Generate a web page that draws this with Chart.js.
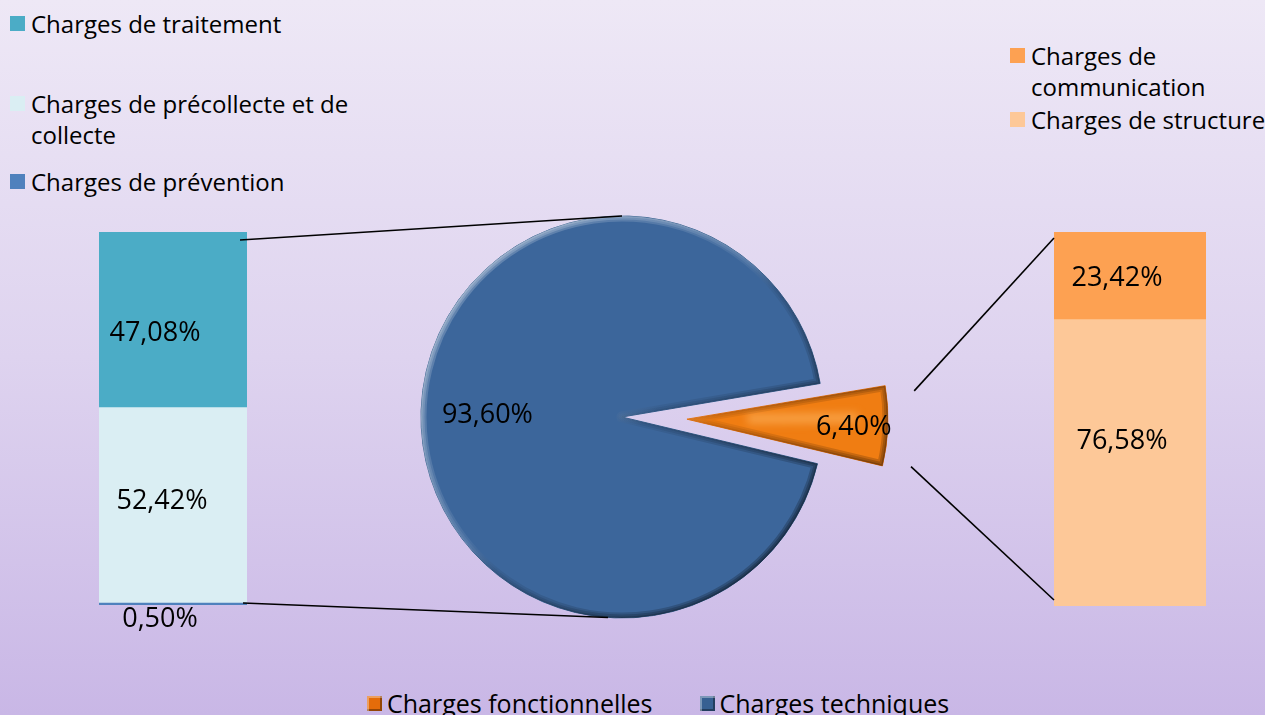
<!DOCTYPE html>
<html lang="fr">
<head>
<meta charset="utf-8">
<title>Répartition des charges</title>
<script src="https://cdn.jsdelivr.net/npm/chart.js@4/dist/chart.umd.min.js"></script>
<style>
  html, body { margin: 0; padding: 0; }
  body {
    width: 1265px; height: 715px; overflow: hidden; position: relative;
    background: linear-gradient(to bottom, #EEE8F6 0%, #DED3EF 50%, #C9B7E6 100%);
    font-family: "Open Sans", "DejaVu Sans", sans-serif; color: #000;
  }
  canvas.layer { position: absolute; left: 0; top: 0; }
  .legend { position: absolute; font-size: 24px; line-height: 31px; }
  .legend .item { position: absolute; left: 0; padding-left: 21px; }
  .legend .sw { position: absolute; left: 0; top: 8px; width: 15px; height: 15px; }
  #legendBottom { position: absolute; left: 367px; top: 685px; display: flex; gap: 47px;
    font-size: 25px; line-height: 36px; white-space: nowrap; }
  #legendBottom .item { display: flex; align-items: center; }
  #legendBottom .sw { width: 15px; height: 15px; margin-right: 5px;
    box-shadow: inset 2px 2px 0 rgba(255,255,255,0.35), inset -2px -2px 0 rgba(0,0,0,0.35); }
</style>
</head>
<body>
<div class="legend" id="legendLeft" style="left:10px;top:0;width:352px;"></div>
<div class="legend" id="legendRight" style="left:1010px;top:0;width:262px;"></div>
<div id="legendBottom"></div>
<canvas class="layer" id="barTech" width="1265" height="715"></canvas>
<canvas class="layer" id="barFonct" width="1265" height="715"></canvas>
<canvas class="layer" id="pie" width="1265" height="715"></canvas>
<script>
// ---- values ----
const pieLabels = ['Charges fonctionnelles', 'Charges techniques'];
const pieValues = [6.40, 93.60];

// left column (breakdown of "Charges techniques"), stacked from the bottom up
const techLabels = ['Charges de prévention', 'Charges de précollecte et de collecte', 'Charges de traitement'];
const techValues = [0.50, 52.42, 47.08];

// right column (breakdown of "Charges fonctionnelles"), stacked from the bottom up
const fonctLabels = ['Charges de structure', 'Charges de communication'];
const fonctValues = [76.58, 23.42];

// ---- styles ----
const pieColors = ['#F07D12', '#3C669B'];
const pieBorders = ['#E87410', '#36608F'];
const pieLegendColors = ['#E46C0A', '#376092'];
const techColors = ['#4F81BD', '#DAEEF3', '#4BACC6'];
const fonctColors = ['#FDC898', '#FDA152'];
const pieExplode = [65, 0];          // px pulled out along the slice bisector
const pieLabelDist = [0.83, 0.67];   // label distance as a fraction of the radius
const techLabelShift = [[-13, 15], [-11, -4], [-18, 14]];
const fonctLabelShift = [[-8, -21], [-13, 3]];
const labelFont = '27px "Open Sans", sans-serif';

const fmt = v => v.toFixed(2).replace('.', ',') + '%';

// ---- legends ----
function buildLegend(el, labels, colors, tops) {
  labels.forEach((l, i) => {
    const it = document.createElement('div');
    it.className = 'item';
    it.style.top = tops[i] + 'px';
    it.style.right = '0';
    const sw = document.createElement('span');
    sw.className = 'sw';
    sw.style.background = colors[i];
    it.appendChild(sw);
    it.appendChild(document.createTextNode(l));
    el.appendChild(it);
  });
}
// legends list the top segment first
buildLegend(document.getElementById('legendLeft'),
  techLabels.slice().reverse(), techColors.slice().reverse(), [8, 88, 166]);
buildLegend(document.getElementById('legendRight'),
  fonctLabels.slice().reverse(), fonctColors.slice().reverse(), [40, 104]);

const lb = document.getElementById('legendBottom');
pieLabels.forEach((l, i) => {
  const it = document.createElement('div');
  it.className = 'item';
  const sw = document.createElement('span');
  sw.className = 'sw';
  sw.style.background = pieLegendColors[i];
  it.appendChild(sw);
  it.appendChild(document.createTextNode(l));
  lb.appendChild(it);
});

// ---- value labels on the stacked columns ----
const barLabels = {
  id: 'barLabels',
  afterDatasetsDraw(chart, args, opts) {
    const ctx = chart.ctx;
    ctx.save();
    ctx.font = labelFont;
    ctx.fillStyle = '#000';
    ctx.textAlign = 'center';
    ctx.textBaseline = 'middle';
    chart.data.datasets.forEach((ds, i) => {
      const el = chart.getDatasetMeta(i).data[0];
      const cy = (el.y + el.base) / 2;
      const s = opts.shift[i];
      ctx.fillText(fmt(ds.data[0]), el.x + s[0], cy + s[1]);
    });
    ctx.restore();
  }
};

function stackedColumn(id, labels, values, colors, padding, shift) {
  return new Chart(document.getElementById(id), {
    type: 'bar',
    data: {
      labels: [''],
      datasets: labels.map((l, i) => ({
        label: l, data: [values[i]], backgroundColor: colors[i],
        borderWidth: 0, barPercentage: 1, categoryPercentage: 1
      }))
    },
    options: {
      responsive: false, animation: false,
      layout: { padding },
      plugins: { legend: { display: false }, tooltip: { enabled: false }, barLabels: { shift } },
      scales: {
        x: { display: false, stacked: true },
        y: { display: false, stacked: true, min: 0, max: 100 }
      }
    },
    plugins: [barLabels]
  });
}

const techChart = stackedColumn('barTech', techLabels, techValues, techColors,
  { left: 99, right: 1018, top: 232, bottom: 110 }, techLabelShift);
const fonctChart = stackedColumn('barFonct', fonctLabels, fonctValues, fonctColors,
  { left: 1054, right: 59, top: 232, bottom: 109 }, fonctLabelShift);

// ---- pie helpers ----
function arcCentre(arc, i) {
  const mid = (arc.startAngle + arc.endAngle) / 2;
  const d = pieExplode[i] || 0;
  return { x: arc.x + Math.cos(mid) * d, y: arc.y + Math.sin(mid) * d, mid };
}

function slicePath(ctx, x, y, r, a0, a1) {
  ctx.beginPath();
  ctx.moveTo(x, y);
  ctx.arc(x, y, r, a0, a1);
  ctx.closePath();
}

// pulls slices out and adds a soft bevel on their edges
const explodeBevel = {
  id: 'explodeBevel',
  beforeDatasetDraw(chart, args) {
    args.meta.data.forEach((arc, i) => {
      const c = arcCentre(arc, i);
      arc._home = { x: arc.x, y: arc.y };
      arc.x = c.x; arc.y = c.y;
    });
  },
  afterDatasetDraw(chart, args) {
    const ctx = chart.ctx;
    args.meta.data.forEach((arc, i) => {
      const { x, y, outerRadius: r, startAngle: a0, endAngle: a1 } = arc;
      ctx.save();
      slicePath(ctx, x, y, r, a0, a1);
      ctx.clip();
      // lighter streak along the middle of the small slice
      if (i === 0) {
        const mid = (a0 + a1) / 2;
        ctx.strokeStyle = 'rgba(255,190,110,0.55)';
        ctx.lineWidth = 10;
        ctx.filter = 'blur(4px)';
        ctx.beginPath();
        ctx.moveTo(x + Math.cos(mid - 0.04) * r * 0.3, y + Math.sin(mid - 0.04) * r * 0.3);
        ctx.lineTo(x + Math.cos(mid - 0.04) * r * 0.85, y + Math.sin(mid - 0.04) * r * 0.85);
        ctx.stroke();
        ctx.filter = 'none';
      }
      const g = ctx.createLinearGradient(x - r * 0.7, y - r * 0.7, x + r * 0.7, y + r * 0.7);
      g.addColorStop(0, 'rgba(255,255,255,0.20)');
      g.addColorStop(0.45, 'rgba(255,255,255,0.06)');
      g.addColorStop(0.55, 'rgba(0,0,0,0.06)');
      g.addColorStop(1, 'rgba(0,0,0,0.22)');
      ctx.strokeStyle = g;
      ctx.lineJoin = 'round';
      [11, 7, 3].forEach(w => {
        ctx.lineWidth = w;
        slicePath(ctx, x, y, r, a0, a1);
        ctx.stroke();
      });
      ctx.restore();
      arc.x = arc._home.x; arc.y = arc._home.y;
    });
  }
};

// percentages on the slices and the leader lines to both columns
const pieExtras = {
  id: 'pieExtras',
  afterDraw(chart) {
    const ctx = chart.ctx;
    const arcs = chart.getDatasetMeta(0).data;
    ctx.save();
    ctx.font = labelFont;
    ctx.fillStyle = '#000';
    ctx.textAlign = 'center';
    ctx.textBaseline = 'middle';
    arcs.forEach((arc, i) => {
      const c = arcCentre(arc, i);
      const d = arc.outerRadius * pieLabelDist[i];
      ctx.fillText(fmt(pieValues[i]), c.x + Math.cos(c.mid) * d, c.y + Math.sin(c.mid) * d + 3);
    });

    ctx.strokeStyle = '#000';
    ctx.lineWidth = 1.6;
    const line = (x1, y1, x2, y2) => { ctx.beginPath(); ctx.moveTo(x1, y1); ctx.lineTo(x2, y2); ctx.stroke(); };

    // technical slice -> left column
    const tech = arcs[1];
    const r = tech.outerRadius;
    const tTop = techChart.getDatasetMeta(techValues.length - 1).data[0];
    const tBot = techChart.getDatasetMeta(0).data[0];
    const tRight = tTop.x + tTop.width / 2;
    line(tRight - 7, tTop.y + 8, tech.x, tech.y - r);
    const ab = Math.PI / 180 * 94;
    line(tRight - 4, tBot.base - 2, tech.x + Math.cos(ab) * r, tech.y + Math.sin(ab) * r);

    // functional slice -> right column
    const fon = arcs[0];
    const fc = arcCentre(fon, 0);
    const rr = fon.outerRadius + 28;
    const s0 = fon.startAngle + Math.PI / 180 * 2.5;
    const s1 = fon.endAngle - Math.PI / 180 * 1.5;
    const fTop = fonctChart.getDatasetMeta(fonctValues.length - 1).data[0];
    const fBot = fonctChart.getDatasetMeta(0).data[0];
    const fLeft = fTop.x - fTop.width / 2;
    line(fc.x + Math.cos(s0) * rr, fc.y + Math.sin(s0) * rr, fLeft, fTop.y + 6);
    line(fc.x + Math.cos(s1) * rr, fc.y + Math.sin(s1) * rr, fLeft, fBot.base - 6);
    ctx.restore();
  }
};

new Chart(document.getElementById('pie'), {
  type: 'pie',
  data: {
    labels: pieLabels,
    datasets: [{
      data: pieValues,
      backgroundColor: pieColors,
      borderColor: pieBorders,
      borderWidth: 1
    }]
  },
  options: {
    responsive: false, animation: false,
    rotation: 80.4,
    radius: 201,
    layout: { padding: { left: 0, right: 21, top: 119, bottom: 0 } },
    plugins: { legend: { display: false }, tooltip: { enabled: false } }
  },
  plugins: [explodeBevel, pieExtras]
});
</script>
</body>
</html>
